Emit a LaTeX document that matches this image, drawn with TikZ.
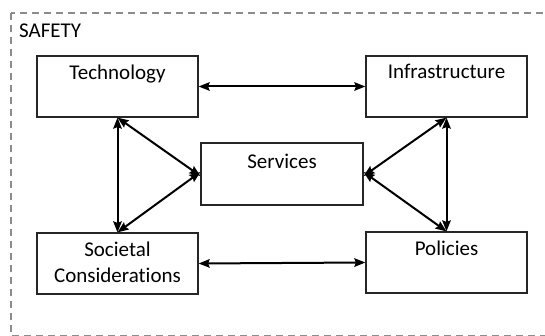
\documentclass[tikz,border=0pt]{standalone}
\usepackage{fontspec}
\setmainfont{Carlito}[Ligatures={NoCommon}]
\usetikzlibrary{arrows.meta}
\tikzset{
  box/.style={draw=black!85, line width=1.2pt, minimum width=161pt, minimum height=61pt, inner sep=0pt},
  lbl/.style={anchor=north, inner sep=0pt, yshift=-9pt, align=center, font=\fontsize{21}{26}\selectfont},
  link/.style={line width=2pt, {Stealth[length=11pt,width=8.5pt,inset=1.5pt]}-{Stealth[length=11pt,width=8.5pt,inset=1.5pt]}},
  frame/.style={draw=black!45, line width=1.3pt, dash pattern=on 7pt off 5pt},
  title/.style={anchor=base west, inner sep=0pt, font=\fontsize{21}{26}\selectfont}
}
\begin{document}
\begin{tikzpicture}[x=1pt,y=-1pt]
\useasboundingbox (0,0) rectangle (545,336);
\draw[frame] (11,13) rectangle (560,335.8);
\node[title] (safety) at (19,37.5) {SAFETY};
\node[box, label={[lbl]north:Technology}] (tech) at (117.5,86.5) {};
\node[box, label={[lbl]north:Infrastructure}] (infra) at (446.5,86.5) {};
\node[box, minimum width=162pt, minimum height=62pt, label={[lbl, yshift=-2pt]north:Services}] (serv) at (282,174) {};
\node[box, label={[lbl]north:Societal\\Considerations}] (soc) at (117.5,263.5) {};
\node[box, label={[lbl]north:Policies}] (pol) at (446.5,262.5) {};
\draw[link] (tech.east) -- (infra.west);
\draw[link] (soc.east) -- (pol.west);
\draw[link] (tech.south) -- (soc.north);
\draw[link] (infra.south) -- (pol.north);
\draw[link] (tech.south) -- ([yshift=-2pt]serv.west);
\draw[link] (soc.north) -- ([yshift=2pt]serv.west);
\draw[link] (infra.south) -- ([yshift=-2pt]serv.east);
\draw[link] (pol.north) -- ([yshift=2pt]serv.east);
\end{tikzpicture}
\end{document}
